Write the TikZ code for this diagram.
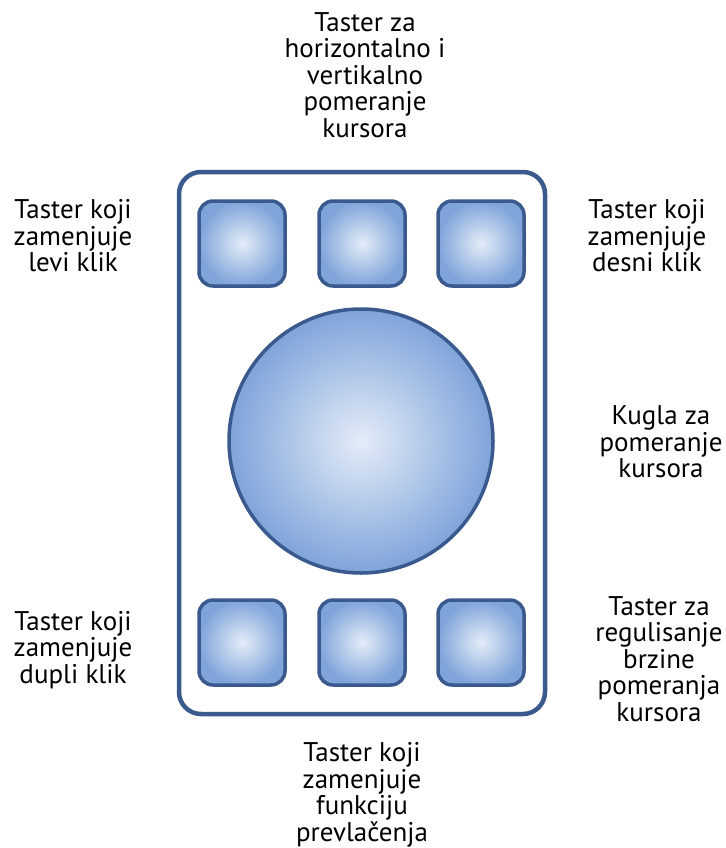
\documentclass[tikz,border=0pt]{standalone}
\usepackage{fontspec}
\setmainfont{PT Sans}
\definecolor{edge}{HTML}{3A5A8E}
\definecolor{outerblue}{HTML}{7FA4DA}
\definecolor{innerblue}{HTML}{E4ECF8}
\begin{document}
\begin{tikzpicture}[x=1pt,y=-1pt,
  key/.style={draw=edge,line width=3.5pt,rounded corners=14pt,inner color=innerblue,outer color=outerblue},
  lbl/.style={align=center,font=\fontsize{27}{26.5}\selectfont,text=black}]
\useasboundingbox (0,0) rectangle (725,848);
\draw[edge,line width=4.5pt,rounded corners=22pt,fill=white] (179,172) rectangle (545,714);
\foreach \n/\x in {a/199,b/319,c/438}{
  \path[key] (\x,201) rectangle ++(86,85);
  \path[key] (\x,600) rectangle ++(86,85);
}
\path[draw=edge,line width=3.5pt,inner color=innerblue,outer color=outerblue] (361,441) circle (132);
\node[lbl] (top) at (365,75) {Taster za\\horizontalno i\\vertikalno\\pomeranje\\kursora};
\node[lbl] (lt) at (73,236) {Taster koji\\zamenjuje\\levi klik};
\node[lbl] (rt) at (647,236) {Taster koji\\zamenjuje\\desni klik};
\node[lbl] (rm) at (661,442) {Kugla za\\pomeranje\\kursora};
\node[lbl] (lb) at (73,650) {Taster koji\\zamenjuje\\dupli klik};
\node[lbl] (rb) at (659,659) {Taster za\\regulisanje\\brzine\\pomeranja\\kursora};
\node[lbl] (bot) at (362,795) {Taster koji\\zamenjuje\\funkciju\\prevlačenja};
\end{tikzpicture}
\end{document}
